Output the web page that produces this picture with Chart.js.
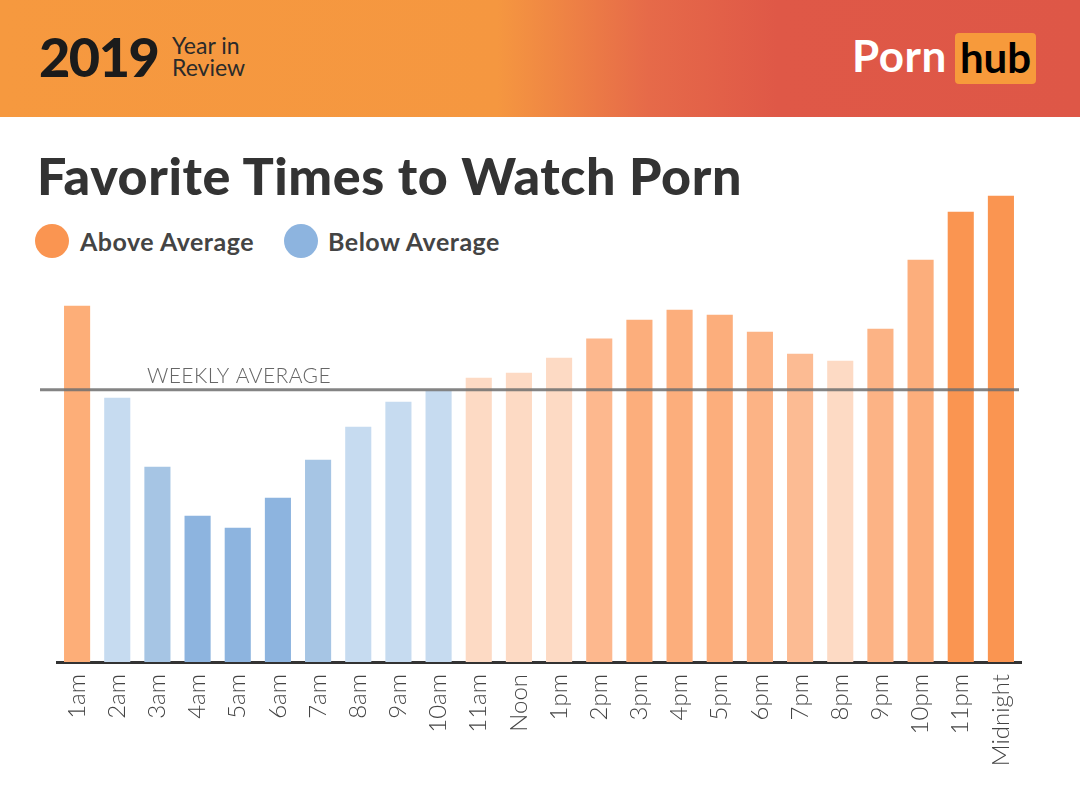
<!DOCTYPE html>
<html>
<head>
<meta charset="utf-8">
<script src="https://cdn.jsdelivr.net/npm/chart.js@4/dist/chart.umd.min.js"></script>
<style>
  body { margin:0; width:1080px; height:792px; background:#fff; overflow:hidden; font-family: Lato, "Open Sans", sans-serif; }
  #header {
    position:absolute; left:0; top:0; width:1080px; height:117px;
    background: linear-gradient(to right, #F6993F 0%, #F59740 46%, #E66A49 60%, #DF5847 72%, #DE5747 100%);
  }
  #year { position:absolute; left:39px; top:24px; font-size:54px; font-weight:900; color:#1b1b1b; letter-spacing:-1.5px; }
  #yir { position:absolute; left:172px; top:34px; font-size:23px; line-height:22px; color:#2a2a2a; }
  #porn { position:absolute; left:852px; top:29px; font-size:44px; font-weight:700; color:#fff; letter-spacing:0.5px; }
  #hub { position:absolute; left:955px; top:33px; width:81px; height:51px; background:#F79A3B; border-radius:4px;
         font-size:42px; font-weight:700; color:#000; text-align:center; line-height:48px; }
  #title { position:absolute; left:37px; top:144px; font-size:52px; font-weight:900; color:#333; letter-spacing:0.6px; }
  .leg { position:absolute; top:224px; height:34px; font-size:25px; color:#444; font-weight:700; line-height:34px; letter-spacing:0.5px; }
  .dot { position:absolute; top:224px; width:34px; height:34px; border-radius:50%; }
  canvas { position:absolute; left:0; top:0; }
</style>
</head>
<body>
<div id="header">
  <div id="year">2019</div>
  <div id="yir">Year in<br>Review</div>
  <div id="porn">Porn</div>
  <div id="hub">hub</div>
</div>
<div id="title">Favorite Times to Watch Porn</div>
<div class="dot" style="left:35px;background:#FA9551"></div>
<div class="leg" style="left:80px">Above Average</div>
<div class="dot" style="left:284px;background:#8DB4DF"></div>
<div class="leg" style="left:328px">Below Average</div>
<canvas id="myChart" width="1080" height="792"></canvas>
<script>
// hourly traffic, index where weekly average = 100
const hours = ["1am","2am","3am","4am","5am","6am","7am","8am","9am","10am","11am","Noon",
               "1pm","2pm","3pm","4pm","5pm","6pm","7pm","8pm","9pm","10pm","11pm","Midnight"];
const traffic = [130.9, 97.1, 71.7, 53.7, 49.3, 60.3, 74.3, 86.4, 95.6, 99.6, 104.4, 106.3,
                 111.8, 118.8, 125.7, 129.4, 127.6, 121.3, 113.2, 110.7, 122.4, 147.8, 165.4, 171.3];
const weeklyAverage = 100;

// shade of each bar
const barColors = ["#FDAE78","#C6DBF0","#A6C5E4","#8DB4DF","#8DB4DF","#8DB4DF","#A6C5E4","#C6DBF0","#C6DBF0","#C6DBF0","#FDDAC4","#FDDAC4",
                   "#FDDAC4","#FDB88E","#FCAE7C","#FCAE7C","#FCAE7C","#FCB385","#FCBB93","#FDDAC4","#FCB385","#FCAE7C","#FA9551","#FA9551"];

const averageLine = {
  id: 'averageLine',
  afterDatasetsDraw(chart) {
    const c = chart.ctx;
    const y = chart.scales.y.getPixelForValue(weeklyAverage);
    c.save();
    c.strokeStyle = 'rgba(110,110,110,0.85)';
    c.lineWidth = 3;
    c.beginPath();
    c.moveTo(40, y);
    c.lineTo(chart.chartArea.right - 2, y);
    c.stroke();
    c.fillStyle = '#666';
    c.font = '300 21px Lato';
    c.letterSpacing = '0.4px';
    c.textBaseline = 'alphabetic';
    c.fillText('WEEKLY AVERAGE', 147, y - 7);
    c.restore();
  }
};

var ctx = document.getElementById('myChart').getContext('2d');
var chart = new Chart(ctx, {
  type: 'bar',
  data: {
    labels: hours,
    datasets: [{
      data: traffic,
      backgroundColor: barColors,
      barPercentage: 0.65,
      categoryPercentage: 1.0,
    }]
  },
  options: {
    responsive: false,
    animation: false,
    layout: { padding: { left: 57, right: 59, top: 172, bottom: 0 } },
    plugins: { legend: { display: false }, tooltip: { enabled: false } },
    scales: {
      x: {
        grid: { display: false },
        border: { display: true, color: '#333', width: 3 },
        ticks: {
          minRotation: 90, maxRotation: 90, padding: 4,
          color: '#444',
          font: { family: 'Lato', size: 24, weight: '300' }
        },
        afterFit: s => { s.height = 130; }
      },
      y: {
        display: false,
        min: 0, max: 180
      }
    }
  },
  plugins: [averageLine]
});
</script>
</body>
</html>
